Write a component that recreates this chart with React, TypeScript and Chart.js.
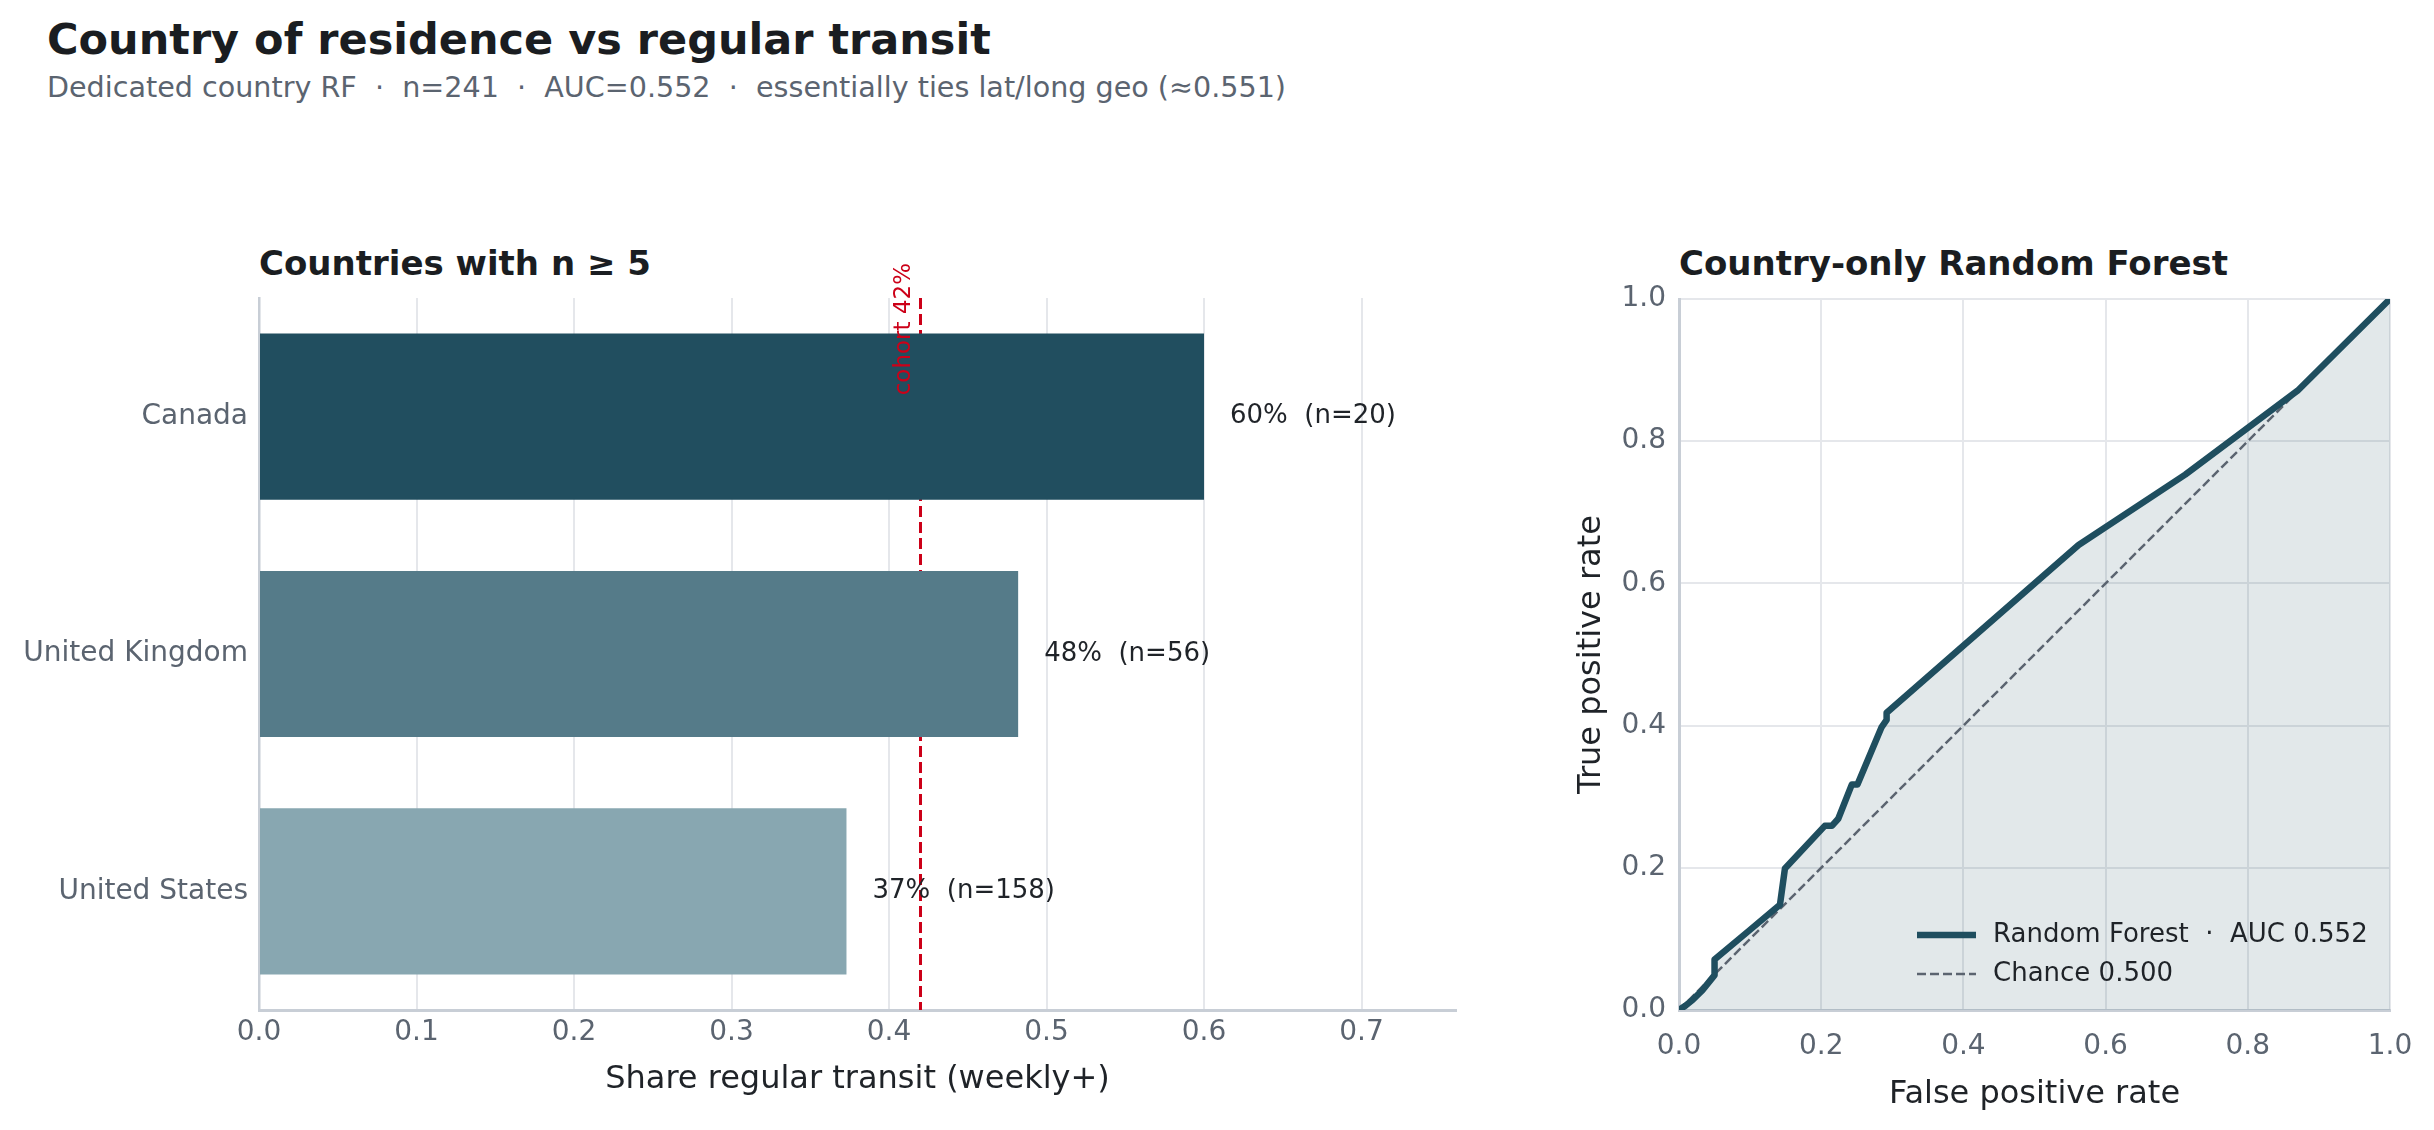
import React, { useEffect, useRef } from 'react';
import { Chart, registerables } from 'chart.js';

Chart.register(...registerables);

// bar panel: share of regular transit users by country
const countries = ['Canada', 'United Kingdom', 'United States'];
const shares = [0.6, 0.482, 0.373];
const counts = [20, 56, 158];
const barColors = ['#214e5f', '#557b89', '#88a7b1'];
const cohortShare = 0.42;
const shareTicks = [0, 0.1, 0.2, 0.3, 0.4, 0.5, 0.6, 0.7];

// ROC panel: country-only random forest
const fpr = [0, 0.009, 0.019, 0.033, 0.05, 0.05, 0.099, 0.142, 0.149, 0.205, 0.215, 0.224, 0.243, 0.251, 0.285, 0.292, 0.292, 0.562, 0.712, 0.87, 1];
const tpr = [0, 0.006, 0.014, 0.028, 0.049, 0.071, 0.112, 0.148, 0.199, 0.259, 0.259, 0.269, 0.317, 0.317, 0.398, 0.408, 0.418, 0.654, 0.753, 0.871, 1];
const chanceX = [0, 1];
const chanceY = [0, 1];
const rateTicks = [0, 0.2, 0.4, 0.6, 0.8, 1];
const rocAuc = 0.552;
const chanceAuc = 0.5;

const family = '"DejaVu Sans", sans-serif';
const ink = '#1f2328';
const tickGray = '#5b6470';
const gridColor = '#e5e7eb';
const spineColor = '#c8ced6';
const cohortRed = '#cc0018';
const rocColor = '#1f4e5f';

const cohortLine = {
  id: 'cohortLine',
  beforeDatasetsDraw(chart: any) {
    const { ctx, chartArea, scales } = chart;
    const x = scales.x.getPixelForValue(cohortShare);
    ctx.save();
    ctx.strokeStyle = cohortRed;
    ctx.lineWidth = 3;
    ctx.setLineDash([11, 5]);
    ctx.beginPath();
    ctx.moveTo(x, chartArea.top);
    ctx.lineTo(x, chartArea.bottom);
    ctx.stroke();
    ctx.restore();
  },
  afterDatasetsDraw(chart: any) {
    const { ctx, scales } = chart;
    const x = scales.x.getPixelForValue(cohortShare);
    ctx.save();
    ctx.translate(x - 5, 33);
    ctx.rotate(-Math.PI / 2);
    ctx.fillStyle = cohortRed;
    ctx.font = `23px ${family}`;
    ctx.textAlign = 'right';
    ctx.textBaseline = 'bottom';
    ctx.fillText(`cohort ${Math.round(cohortShare * 100)}%`, 0, 0);
    ctx.restore();
  },
};

const valueLabels = {
  id: 'valueLabels',
  afterDatasetsDraw(chart: any) {
    const { ctx } = chart;
    const meta = chart.getDatasetMeta(0);
    ctx.save();
    ctx.fillStyle = ink;
    ctx.font = `26px ${family}`;
    ctx.textAlign = 'left';
    ctx.textBaseline = 'middle';
    meta.data.forEach((bar: any, i: number) => {
      ctx.fillText(`${Math.round(shares[i] * 100)}%  (n=${counts[i]})`, bar.x + 26, bar.y);
    });
    ctx.restore();
  },
};

const rocLegend = {
  id: 'rocLegend',
  afterDraw(chart: any) {
    const { ctx, chartArea } = chart;
    chart.data.datasets.forEach((ds: any, i: number) => {
      const y = chartArea.bottom - 75 + i * 39;
      const x0 = chartArea.right - 473;
      ctx.save();
      ctx.strokeStyle = ds.borderColor;
      ctx.lineWidth = ds.borderWidth;
      ctx.setLineDash(ds.borderDash || []);
      ctx.beginPath();
      ctx.moveTo(x0, y);
      ctx.lineTo(x0 + 59, y);
      ctx.stroke();
      ctx.setLineDash([]);
      ctx.fillStyle = ink;
      ctx.font = `26px ${family}`;
      ctx.textAlign = 'left';
      ctx.textBaseline = 'middle';
      ctx.fillText(ds.label, chartArea.right - 397, y);
      ctx.restore();
    });
  },
};

const App = (): JSX.Element => {
  const barRef = useRef<HTMLCanvasElement>(null);
  const rocRef = useRef<HTMLCanvasElement>(null);

  useEffect(() => {
    const barChart = new Chart(barRef.current.getContext('2d'), {
      type: 'bar',
      data: {
        labels: countries,
        datasets: [
          {
            data: shares,
            backgroundColor: barColors,
            borderWidth: 0,
            barPercentage: 0.7,
            categoryPercentage: 1,
          },
        ],
      },
      options: {
        indexAxis: 'y',
        animation: false,
        responsive: false,
        layout: { padding: { top: 68, right: 24, left: 0, bottom: 0 } },
        plugins: { legend: { display: false }, tooltip: { enabled: false } },
        scales: {
          x: {
            type: 'linear',
            min: 0,
            max: 0.76,
            afterBuildTicks: (s: any) => {
              s.ticks = shareTicks.map((v) => ({ value: v }));
            },
            afterFit: (s: any) => {
              s.height = 120;
            },
            grid: { color: gridColor, lineWidth: 2, drawTicks: false },
            border: { color: spineColor, width: 3 },
            ticks: {
              padding: 6,
              color: tickGray,
              font: { family, size: 28 },
              callback: (v: any) => Number(v).toFixed(1),
            },
            title: {
              display: true,
              text: 'Share regular transit (weekly+)',
              color: ink,
              font: { family, size: 32 },
              padding: { top: 0, bottom: 31 },
            },
          },
          y: {
            afterFit: (s: any) => {
              s.width = 259;
            },
            grid: { display: false, drawTicks: false },
            border: { color: spineColor, width: 2.5 },
            ticks: { padding: 11, color: tickGray, font: { family, size: 28 } },
          },
        },
      },
      plugins: [cohortLine, valueLabels],
    } as any);

    const rocChart = new Chart(rocRef.current.getContext('2d'), {
      type: 'line',
      data: {
        datasets: [
          {
            label: `Random Forest  ·  AUC ${rocAuc.toFixed(3)}`,
            data: fpr.map((x, i) => ({ x, y: tpr[i] })),
            borderColor: rocColor,
            borderWidth: 6.5,
            borderJoinStyle: 'round',
            borderCapStyle: 'round',
            pointRadius: 0,
            tension: 0,
            fill: 'origin',
            backgroundColor: 'rgba(31, 78, 95, 0.13)',
          },
          {
            label: `Chance ${chanceAuc.toFixed(3)}`,
            data: chanceX.map((x, i) => ({ x, y: chanceY[i] })),
            borderColor: tickGray,
            borderWidth: 2.5,
            borderDash: [9, 4],
            pointRadius: 0,
            fill: false,
          },
        ],
      },
      options: {
        animation: false,
        responsive: false,
        layout: { padding: { top: 69, right: 44, left: 0, bottom: 0 } },
        plugins: {
          legend: { display: false },
          tooltip: { enabled: false },
          filler: { drawTime: 'beforeDatasetsDraw' },
        },
        scales: {
          x: {
            type: 'linear',
            min: 0,
            max: 1,
            afterBuildTicks: (s: any) => {
              s.ticks = rateTicks.map((v) => ({ value: v }));
            },
            afterFit: (s: any) => {
              s.height = 120;
            },
            grid: { color: gridColor, lineWidth: 2, drawTicks: false },
            border: { color: spineColor, width: 3 },
            ticks: {
              padding: 20,
              color: tickGray,
              font: { family, size: 28 },
              callback: (v: any) => Number(v).toFixed(1),
            },
            title: {
              display: true,
              text: 'False positive rate',
              color: ink,
              font: { family, size: 32 },
              padding: { top: 0, bottom: 16 },
            },
          },
          y: {
            type: 'linear',
            min: 0,
            max: 1,
            afterBuildTicks: (s: any) => {
              s.ticks = rateTicks.map((v) => ({ value: v }));
            },
            afterFit: (s: any) => {
              s.width = 139;
            },
            grid: { color: gridColor, lineWidth: 2, drawTicks: false },
            border: { color: spineColor, width: 3 },
            ticks: {
              padding: 13,
              color: tickGray,
              font: { family, size: 28 },
              callback: (v: any) => Number(v).toFixed(1),
            },
            title: {
              display: true,
              text: 'True positive rate',
              color: ink,
              font: { family, size: 32 },
              padding: { top: 32, bottom: 0 },
            },
          },
        },
      },
      plugins: [rocLegend],
    } as any);

    return () => {
      barChart.destroy();
      rocChart.destroy();
    };
  }, []);

  const titleStyle: React.CSSProperties = {
    position: 'absolute',
    fontFamily: family,
    lineHeight: 1,
    whiteSpace: 'pre',
    margin: 0,
  };

  return (
    <div style={{ position: 'absolute', left: 0, top: 0, width: 2434, height: 1130, background: '#fff', overflow: 'hidden' }}>
      <div style={{ ...titleStyle, left: 47, top: 18, fontSize: 43, fontWeight: 'bold', color: '#1a1d21' }}>
        Country of residence vs regular transit
      </div>
      <div style={{ ...titleStyle, left: 47, top: 73, fontSize: 28.6, color: tickGray }}>
        {`Dedicated country RF  ·  n=241  ·  AUC=${rocAuc.toFixed(3)}  ·  essentially ties lat/long geo (≈0.551)`}
      </div>
      <div style={{ ...titleStyle, left: 259, top: 246, fontSize: 34, fontWeight: 'bold', color: '#1a1d21' }}>
        Countries with n ≥ 5
      </div>
      <div style={{ ...titleStyle, left: 1679, top: 246, fontSize: 34, fontWeight: 'bold', color: '#1a1d21' }}>
        Country-only Random Forest
      </div>
      <canvas
        ref={barRef}
        width={1480}
        height={900}
        style={{ position: 'absolute', left: 0, top: 230, width: 1480, height: 900 }}
      />
      <canvas
        ref={rocRef}
        width={894}
        height={900}
        style={{ position: 'absolute', left: 1540, top: 230, width: 894, height: 900 }}
      />
    </div>
  );
};

export default App;
